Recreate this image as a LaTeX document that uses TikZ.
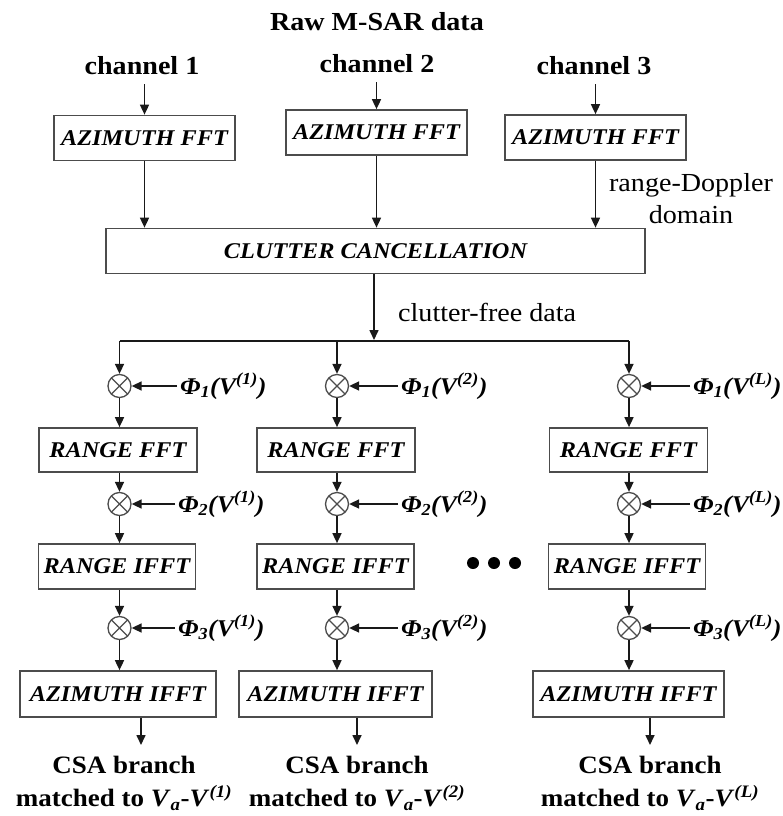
\documentclass[tikz,border=0pt]{standalone}
\usepackage{fontspec}
\setmainfont{Liberation Serif}[FakeStretch=1.08]
\usetikzlibrary{arrows.meta}
\newcommand\ttlfont{\fontsize{26}{30}\selectfont\bfseries}
\newcommand\bxfont{\fontsize{22.5}{26}\selectfont\bfseries\itshape}
\newcommand\rgfont{\fontsize{26}{32}\selectfont}
\newcommand\csafont{\fontsize{25}{33}\selectfont\bfseries}
\newcommand\phifont{\fontsize{24}{28}\selectfont\bfseries\itshape}
\newcommand\phiL[2]{Φ\textsubscript{#1}(V\textsuperscript{(#2)})}
\newcommand\mtch[1]{matched to \textit{V}\textsubscript{\textit{a}}-\textit{V}\textsuperscript{\textit{(#1)}}}
\tikzset{
  boxnode/.style={draw=black!70, line width=1.7pt, minimum height=45pt, inner sep=0pt, font=\bxfont},
  arr/.style={-{Triangle[length=10pt,width=9pt]}, line width=1.6pt, draw=black!90},
  plain/.style={line width=1.6pt, draw=black!90},
  mult/.style={circle, draw=black!70, line width=1.3pt, minimum size=23pt, inner sep=0pt,
    path picture={\draw[black!70, line width=1.2pt]
      (path picture bounding box.north west) -- (path picture bounding box.south east)
      (path picture bounding box.north east) -- (path picture bounding box.south west);}},
  philab/.style={font=\phifont, inner xsep=3pt, inner ysep=0pt, anchor=base west},
  chlab/.style={font=\ttlfont, inner sep=0pt},
}
\begin{document}
\begin{tikzpicture}[x=1pt,y=-1pt]
\useasboundingbox (0,0) rectangle (783,816);
% title and channels
\node[chlab] (title) at (377,22) {Raw M-SAR data};
\node[chlab] (ch1) at (142,66) {channel 1};
\node[chlab] (ch2) at (377,64) {channel 2};
\node[chlab] (ch3) at (594,66) {channel 3};
% azimuth FFT boxes
\node[boxnode, minimum width=181pt] (az1) at (144.5,138) {AZIMUTH FFT};
\node[boxnode, minimum width=181pt] (az2) at (376.5,132.5) {AZIMUTH FFT};
\node[boxnode, minimum width=181pt] (az3) at (595.5,137.5) {AZIMUTH FFT};
\draw[arr] ([yshift=-9pt]ch1.south -| az1.north) -- (az1.north);
\draw[arr] ([yshift=-9pt]ch2.south -| az2.north) -- (az2.north);
\draw[arr] ([yshift=-9pt]ch3.south -| az3.north) -- (az3.north);
% clutter cancellation
\node[boxnode, minimum width=539pt] (cc) at (375.5,251) {CLUTTER CANCELLATION};
\draw[arr] (az1.south) -- (az1.south |- cc.north);
\draw[arr] (az2.south) -- (az2.south |- cc.north);
\draw[arr] (az3.south) -- (az3.south |- cc.north);
\node[font=\rgfont, align=center, inner sep=0pt] (rd) at (691,199) {range-Doppler\\domain};
% clutter-free
\coordinate (split) at (374,341);
\draw[arr] (cc.south -| split) -- ([yshift=1pt]split);
\node[font=\rgfont, anchor=west, inner sep=0pt] (cf) at (398,312) {clutter-free data};
% multipliers row 1
\node[mult] (m11) at (119.5,386) {};
\node[mult] (m21) at (337,386) {};
\node[mult] (m31) at (629,386) {};
\draw[plain] (m11 |- split) -- (m31 |- split);
\draw[arr] (m11 |- split) -- (m11.north);
\draw[arr] (m21 |- split) -- (m21.north);
\draw[arr] (m31 |- split) -- (m31.north);
% range FFT
\node[boxnode, minimum width=158pt, minimum height=44pt] (rf1) at (118,450) {RANGE FFT};
\node[boxnode, minimum width=158pt, minimum height=44pt] (rf2) at (336,450) {RANGE FFT};
\node[boxnode, minimum width=158pt, minimum height=44pt] (rf3) at (628.5,450) {RANGE FFT};
\draw[arr] (m11.south) -- (m11.south |- rf1.north);
\draw[arr] (m21.south) -- (m21.south |- rf2.north);
\draw[arr] (m31.south) -- (m31.south |- rf3.north);
% multipliers row 2
\node[mult] (m12) at (119.5,504) {};
\node[mult] (m22) at (337,504) {};
\node[mult] (m32) at (629,504) {};
\draw[arr] (rf1.south -| m12) -- (m12.north);
\draw[arr] (rf2.south -| m22) -- (m22.north);
\draw[arr] (rf3.south -| m32) -- (m32.north);
% range IFFT
\node[boxnode, minimum width=157pt] (ri1) at (117,566.5) {RANGE IFFT};
\node[boxnode, minimum width=157pt] (ri2) at (335.5,566.5) {RANGE IFFT};
\node[boxnode, minimum width=157pt] (ri3) at (627,566.5) {RANGE IFFT};
\draw[arr] (m12.south) -- (m12.south |- ri1.north);
\draw[arr] (m22.south) -- (m22.south |- ri2.north);
\draw[arr] (m32.south) -- (m32.south |- ri3.north);
% dots
\fill (473,563) circle (6);
\fill (494,563) circle (6);
\fill (515,563) circle (6);
% multipliers row 3
\node[mult] (m13) at (119.5,628) {};
\node[mult] (m23) at (337,628) {};
\node[mult] (m33) at (629,628) {};
\draw[arr] (ri1.south -| m13) -- (m13.north);
\draw[arr] (ri2.south -| m23) -- (m23.north);
\draw[arr] (ri3.south -| m33) -- (m33.north);
% azimuth IFFT
\node[boxnode, minimum width=196pt, minimum height=46pt] (ai1) at (118,694) {AZIMUTH IFFT};
\node[boxnode, minimum width=193pt, minimum height=46pt] (ai2) at (335.5,694) {AZIMUTH IFFT};
\node[boxnode, minimum width=191pt, minimum height=46pt] (ai3) at (628.5,694) {AZIMUTH IFFT};
\draw[arr] (m13.south) -- (m13.south |- ai1.north);
\draw[arr] (m23.south) -- (m23.south |- ai2.north);
\draw[arr] (m33.south) -- (m33.south |- ai3.north);
% phi labels
\node[philab] (p11) at (177,394) {\phiL{1}{1}};
\node[philab] (p21) at (398,394) {\phiL{1}{2}};
\node[philab] (p31) at (690,394) {\phiL{1}{L}};
\node[philab] (p12) at (175,512) {\phiL{2}{1}};
\node[philab] (p22) at (398,512) {\phiL{2}{2}};
\node[philab] (p32) at (690,512) {\phiL{2}{L}};
\node[philab] (p13) at (175,636) {\phiL{3}{1}};
\node[philab] (p23) at (398,636) {\phiL{3}{2}};
\node[philab] (p33) at (690,636) {\phiL{3}{L}};
\foreach \c in {1,2,3}{
  \foreach \r in {1,2,3}{
    \draw[arr] (p\c\r.west |- m\c\r) -- (m\c\r.east);
  }
}
% outputs
\coordinate (e1) at (141,745);
\coordinate (e2) at (357,745);
\coordinate (e3) at (650,745);
\draw[arr] (ai1.south -| e1) -- (e1);
\draw[arr] (ai2.south -| e2) -- (e2);
\draw[arr] (ai3.south -| e3) -- (e3);
\node[font=\csafont, align=center, anchor=north, inner sep=0pt] (o1) at (124,756) {CSA branch\\\mtch{1}};
\node[font=\csafont, align=center, anchor=north, inner sep=0pt] (o2) at (357,756) {CSA branch\\\mtch{2}};
\node[font=\csafont, align=center, anchor=north, inner sep=0pt] (o3) at (650,756) {CSA branch\\\mtch{L}};
\end{tikzpicture}
\end{document}
